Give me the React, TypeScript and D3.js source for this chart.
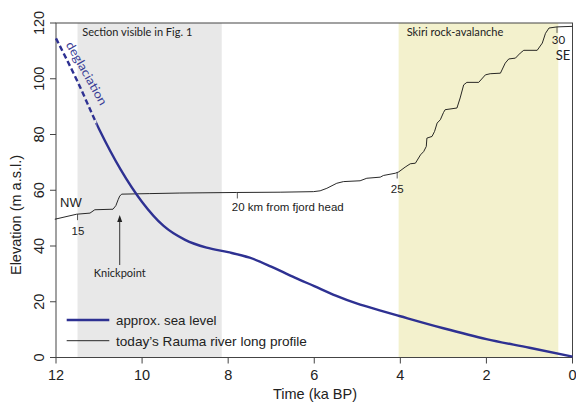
import React from "react";
import * as d3 from "d3";

// ---- data ----
const seaTime = [12, 11.5, 11, 10.5, 10, 9.5, 9, 8.5, 8, 7.5, 7, 6.5, 6, 5.5, 5, 4.5, 4, 3, 2, 1, 0];
const seaLevel = [114.5, 99, 82, 67.5, 55.8, 47.2, 42.2, 39.4, 37.8, 35.8, 32.6, 29.0, 25.6, 22.2, 19.3, 17.0, 14.8, 10.5, 6.6, 3.5, 0.3];
const deglaciationEnd = 11.06; // ka BP, dashed before this

const riverKm = [14.29, 14.97, 15.39, 15.54, 16.11, 16.2, 16.27, 16.32, 16.38, 17.26, 18.2, 19.98, 21.34, 22.38, 22.59, 22.8, 23.11, 23.32, 23.84, 24.05, 24.47, 24.57, 24.94, 25.05, 25.25, 25.41, 25.57, 25.73, 25.83, 25.91, 25.93, 26.09, 26.17, 26.25, 26.35, 26.45, 26.5, 26.87, 26.97, 27.08, 27.18, 27.55, 27.76, 27.91, 28.23, 28.38, 28.49, 28.7, 28.85, 28.96, 29.38, 29.54, 29.64, 29.75, 30.0, 30.48];
const riverElev = [49.6, 51.4, 51.8, 53.0, 53.2, 54.5, 56.6, 57.9, 58.6, 58.8, 59.0, 59.2, 59.3, 59.5, 59.8, 60.7, 62.5, 63.1, 63.4, 64.3, 64.7, 65.3, 66.1, 66.6, 68.3, 69.5, 69.7, 72.7, 73.9, 75.7, 78.7, 79.3, 81.1, 84.1, 85.3, 87.9, 88.9, 89.5, 93.1, 97.8, 98.7, 98.7, 101.4, 101.8, 102.0, 105.6, 107.1, 107.4, 109.2, 110.2, 110.2, 112.8, 116.3, 118.2, 118.6, 118.8];

const kmTicks = [15, 20, 25, 30];
const timeTicks = [12, 10, 8, 6, 4, 2, 0];
const elevTicks = [0, 20, 40, 60, 80, 100, 120];

const sectionLabels = ["Section visible in Fig. 1", "Skiri rock-avalanche"];
const sectionFrom = [11.5, 4.04];
const sectionTo = [8.15, 0.33];
const sectionColors = ["#e8e8e8", "#f3f1cd"];

const BLUE = "#2e3192";
const W = 576, H = 406;

export default function App() {
  const x = d3.scaleLinear().domain([12, 0]).range([56, 572.5]);
  const y = d3.scaleLinear().domain([0, 120]).range([357.5, 23]);
  const km = d3.scaleLinear().domain([15, 30]).range([x(11.5), x(0.36)]);

  const seaPts: [number, number][] = seaTime.map((t, i) => [x(t), y(seaLevel[i])]);
  const seaPath = d3.line().curve(d3.curveMonotoneX)(seaPts) || "";
  const riverPts: [number, number][] = riverKm.map((k, i) => [km(k), y(riverElev[i])]);
  const riverPath = d3.line()(riverPts) || "";
  const riverAt = (k: number) => {
    const i = d3.bisectLeft(riverKm, k);
    if (i <= 0) return riverElev[0];
    if (i >= riverKm.length) return riverElev[riverKm.length - 1];
    const f = (k - riverKm[i - 1]) / (riverKm[i] - riverKm[i - 1]);
    return riverElev[i - 1] + f * (riverElev[i] - riverElev[i - 1]);
  };
  const xd = x(deglaciationEnd);
  const x0 = x(12), x1 = x(0), y0 = y(0), y1 = y(120);
  const axisFont = "'Liberation Sans', Arial, sans-serif";
  const humanist = "Lato, 'Open Sans', sans-serif";

  return (
    <svg width={W} height={H} style={{ position: "absolute", left: 0, top: 0, background: "#fff" }}>
      <defs>
        <clipPath id="dash"><rect x={0} y={0} width={xd} height={H} /></clipPath>
        <clipPath id="solid"><rect x={xd} y={0} width={W} height={H} /></clipPath>
      </defs>
      {sectionLabels.map((l, i) => (
        <rect key={l} x={x(sectionFrom[i])} y={y1} width={x(sectionTo[i]) - x(sectionFrom[i])} height={y0 - y1} fill={sectionColors[i]} />
      ))}
      <text x={82.3} y={35.7} fontFamily={humanist} fontSize={10.5} fill="#222" textLength={110} lengthAdjust="spacingAndGlyphs">{sectionLabels[0]}</text>
      <text x={406.7} y={35.5} fontFamily={humanist} fontSize={10.5} fill="#222" textLength={96.7} lengthAdjust="spacingAndGlyphs">{sectionLabels[1]}</text>

      {/* frame */}
      <rect x={x0} y={y1} width={x1 - x0} height={y0 - y1} fill="none" stroke="#444" strokeWidth={1} />
      {timeTicks.map((t) => (
        <g key={t}>
          <line x1={x(t)} x2={x(t)} y1={y0} y2={y0 + 6} stroke="#444" />
          <text x={x(t)} y={380} textAnchor="middle" fontFamily={axisFont} fontSize={14.5} fill="#222">{t}</text>
        </g>
      ))}
      {elevTicks.map((e) => (
        <g key={e}>
          <line x1={x0 - 6} x2={x0} y1={y(e)} y2={y(e)} stroke="#444" />
          <text transform={`translate(43.5,${y(e)}) rotate(-90)`} textAnchor="middle" fontFamily={axisFont} fontSize={14.5} fill="#222">{e}</text>
        </g>
      ))}
      <text x={315} y={399} textAnchor="middle" fontFamily={axisFont} fontSize={14.5} fill="#222">Time (ka BP)</text>
      <text transform="translate(21,215) rotate(-90)" textAnchor="middle" fontFamily={axisFont} fontSize={14.5} fill="#222">Elevation (m a.s.l.)</text>

      {/* river */}
      <path d={riverPath} fill="none" stroke="#111" strokeWidth={0.9} />
      {kmTicks.map((k) => (
        <line key={k} x1={km(k)} x2={km(k)} y1={y(riverAt(k))} y2={y(riverAt(k)) + 6} stroke="#333" strokeWidth={0.8} />
      ))}
      <text x={km(15) + 0.5} y={y(riverAt(15)) + 21} textAnchor="middle" fontFamily={axisFont} fontSize={11.5} fill="#222">15</text>
      <text x={km(20) - 5.5} y={y(riverAt(20)) + 19} fontFamily={axisFont} fontSize={11.5} fill="#222">20 km from fjord head</text>
      <text x={km(25)} y={y(riverAt(25)) + 20.5} textAnchor="middle" fontFamily={axisFont} fontSize={11.5} fill="#222">25</text>
      <text x={km(30) + 1.5} y={43.5} textAnchor="middle" fontFamily={humanist} fontSize={11.5} fill="#222">30</text>
      <text x={km(30) + 6} y={59.5} textAnchor="middle" fontFamily={humanist} fontSize={13} fill="#222">SE</text>
      <text x={60} y={207.3} fontFamily={axisFont} fontSize={13} fill="#222">NW</text>

      {/* knickpoint arrow */}
      <line x1={km(16.32)} x2={km(16.32)} y1={265} y2={220} stroke="#333" strokeWidth={1} />
      <path d={`M${km(16.32)},${215} l-2.5,7 l5,0 z`} fill="#222" />
      <text x={km(16.32)} y={277} textAnchor="middle" fontFamily={humanist} fontSize={11} fill="#222">Knickpoint</text>

      {/* sea level */}
      <path d={seaPath} fill="none" stroke={BLUE} strokeWidth={2.4} strokeDasharray="5.5 3" clipPath="url(#dash)" />
      <path d={seaPath} fill="none" stroke={BLUE} strokeWidth={2.4} clipPath="url(#solid)" />
      <text transform="translate(65.5,44.5) rotate(60.5)" fontFamily={humanist} fontSize={12} fill="#3a3e96" textLength={71} lengthAdjust="spacingAndGlyphs">deglaciation</text>

      {/* legend */}
      <line x1={66.7} x2={109.3} y1={320} y2={320} stroke={BLUE} strokeWidth={2.4} />
      <text x={116} y={324.5} fontFamily={axisFont} fontSize={13.3} fill="#222">approx. sea level</text>
      <line x1={66.7} x2={109.3} y1={340.7} y2={340.7} stroke="#111" strokeWidth={0.9} />
      <text x={116} y={345.7} fontFamily={axisFont} fontSize={13.6} fill="#222">today’s Rauma river long profile</text>
    </svg>
  );
}
